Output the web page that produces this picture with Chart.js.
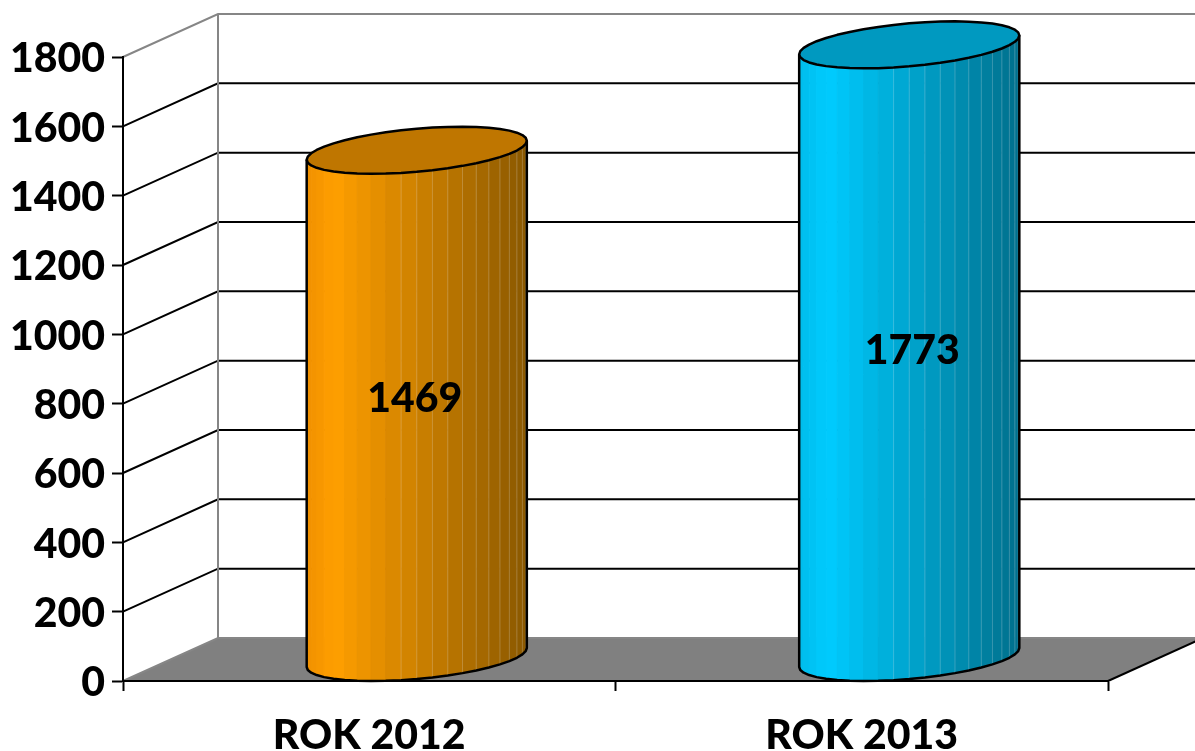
<!DOCTYPE html>
<html>
<head>
<meta charset="utf-8">
<style>
  html, body { margin: 0; padding: 0; background: #fff; }
  canvas { display: block; }
</style>
<script src="https://cdn.jsdelivr.net/npm/chart.js@4"></script>
</head>
<body>
<canvas id="chart" width="1195" height="751"></canvas>
<script>
var categories = ['ROK 2012', 'ROK 2013'];
var values = [1469, 1773];
var yTicks = [0, 200, 400, 600, 800, 1000, 1200, 1400, 1600, 1800];
var barLight = ['#ff9f00', '#00ccff'];
var barDark = ['#8a5800', '#006f8c'];
var barEdge = ['#f09000', '#00bbea'];
var barTop = ['#bf7600', '#0099c0'];

var depthX = 95, depthY = 43; // 3d offset of the back wall
var FONT = '900 41px Lato';

function hex(c) {
  return [parseInt(c.substr(1, 2), 16), parseInt(c.substr(3, 2), 16), parseInt(c.substr(5, 2), 16)];
}
function mix(a, b, f) {
  var x = hex(a), y = hex(b);
  return 'rgb(' + Math.round(x[0] + (y[0] - x[0]) * f) + ',' + Math.round(x[1] + (y[1] - x[1]) * f) + ',' + Math.round(x[2] + (y[2] - x[2]) * f) + ')';
}

// one point of the tilted ellipse of a cylinder
function rim(cx, cy, a, t) {
  return [cx + a * Math.cos(t), cy + 21.5 * Math.sin(t) - 9.5 * Math.cos(t)];
}

var walls = {
  id: 'walls',
  beforeDraw: function(chart) {
    var c = chart.ctx, x = chart.scales.x, y = chart.scales.y;
    var l = x.left, r = x.right, b = y.getPixelForValue(0);
    c.save();
    // floor
    c.fillStyle = '#808080';
    c.beginPath();
    c.moveTo(l, b);
    c.lineTo(l + depthX, b - depthY);
    c.lineTo(r + depthX, b - depthY);
    c.lineTo(r, b);
    c.closePath();
    c.fill();
    c.lineWidth = 2;
    c.strokeStyle = '#000';
    c.beginPath();
    c.moveTo(r, b);
    c.lineTo(r + depthX, b - depthY);
    c.stroke();
    // grid lines on side and back wall
    yTicks.forEach(function(v) {
      var p = y.getPixelForValue(v);
      c.strokeStyle = (v == 0 || v == 1800) ? '#868686' : '#000';
      c.beginPath();
      c.moveTo(l, p);
      c.lineTo(l + depthX, p - depthY);
      c.lineTo(r + depthX, p - depthY);
      c.stroke();
    });
    c.strokeStyle = '#868686';
    c.beginPath();
    c.moveTo(l + depthX, y.getPixelForValue(1800) - depthY);
    c.lineTo(l + depthX, b - depthY);
    c.stroke();
    c.restore();
  }
};

var cylinders = {
  id: 'cylinders',
  afterDatasetsDraw: function(chart) {
    var c = chart.ctx;
    var meta = chart.getDatasetMeta(0);
    meta.data.forEach(function(bar, n) {
      var cx = bar.x + depthX / 2;
      var a = bar.width / 2;
      var topY = bar.y - 21.5;
      var baseY = bar.base - 23;
      var steps = 22, i;
      c.save();
      // body facets, front half of the rim
      for (i = 0; i < steps; i++) {
        var t0 = Math.PI - Math.PI * i / steps;
        var t1 = Math.PI - Math.PI * (i + 1) / steps;
        var p0 = rim(cx, topY, a, t0), p1 = rim(cx, topY, a, t1);
        var q0 = rim(cx, baseY, a, t0), q1 = rim(cx, baseY, a, t1);
        var f = ((p0[0] + p1[0]) / 2 - (cx - a)) / (2 * a);
        var col = f < 0.13 ? mix(barEdge[n], barLight[n], f / 0.13) : mix(barLight[n], barDark[n], (f - 0.13) / 0.87);
        c.fillStyle = col;
        c.strokeStyle = col;
        c.lineWidth = 1;
        c.beginPath();
        c.moveTo(p0[0], p0[1]);
        c.lineTo(p1[0], p1[1]);
        c.lineTo(q1[0], q1[1]);
        c.lineTo(q0[0], q0[1]);
        c.closePath();
        c.fill();
        c.stroke();
        if (i > 0 && f > 0.4) {
          c.strokeStyle = 'rgba(255,255,255,0.22)';
          c.beginPath();
          c.moveTo(p0[0], p0[1]);
          c.lineTo(q0[0], q0[1]);
          c.stroke();
        }
      }
      // outline of the body
      c.lineWidth = 2.5;
      c.strokeStyle = '#000';
      c.lineJoin = 'round';
      c.beginPath();
      var s = rim(cx, topY, a, Math.PI);
      c.moveTo(s[0], s[1]);
      for (i = 0; i <= steps; i++) {
        var q = rim(cx, baseY, a, Math.PI - Math.PI * i / steps);
        c.lineTo(q[0], q[1]);
      }
      var e = rim(cx, topY, a, 0);
      c.lineTo(e[0], e[1]);
      c.stroke();
      // top cap
      c.fillStyle = barTop[n];
      c.beginPath();
      for (i = 0; i < steps * 2; i++) {
        var r = rim(cx, topY, a, Math.PI * i / steps);
        if (i == 0) c.moveTo(r[0], r[1]); else c.lineTo(r[0], r[1]);
      }
      c.closePath();
      c.fill();
      c.stroke();
      // value label
      c.fillStyle = '#000';
      c.font = FONT;
      c.textAlign = 'center';
      c.textBaseline = 'middle';
      c.fillText(String(values[n]), cx + (n == 0 ? -2 : 3), (bar.y + bar.base) / 2 - (n == 0 ? 27 : 23));
      c.restore();
    });
  }
};

var ctx = document.getElementById('chart').getContext('2d');
var myChart = new Chart(ctx, {
  type: 'bar',
  data: {
    labels: categories,
    datasets: [{
      data: values,
      backgroundColor: 'rgba(0,0,0,0)', // drawn by the cylinders plugin
      barPercentage: 0.447,
      categoryPercentage: 1
    }]
  },
  plugins: [walls, cylinders],
  options: {
    responsive: false,
    animation: false,
    layout: { padding: { top: 57, right: 87, left: 0, bottom: 0 } },
    plugins: { legend: { display: false }, tooltip: { enabled: false } },
    scales: {
      x: {
        afterFit: function(s) { s.height = 70; },
        grid: { drawOnChartArea: false, tickLength: 10, tickColor: '#000', tickWidth: 2 },
        border: { color: '#000', width: 2 },
        ticks: { color: '#000', font: { family: 'Lato', weight: '900', size: 41 }, padding: 20, maxRotation: 0 }
      },
      y: {
        min: 0,
        max: 1800,
        afterFit: function(s) { s.width = 123; },
        afterBuildTicks: function(s) { s.ticks = yTicks.map(function(v) { return { value: v }; }); },
        grid: { drawOnChartArea: false, tickLength: 11, tickColor: '#000', tickWidth: 2 },
        border: { color: '#000', width: 2 },
        ticks: {
          color: '#000',
          font: { family: 'Lato', weight: '900', size: 41 },
          padding: 7,
          labelOffset: 2,
          callback: function(v) { return String(v); }
        }
      }
    }
  }
});
</script>
</body>
</html>
